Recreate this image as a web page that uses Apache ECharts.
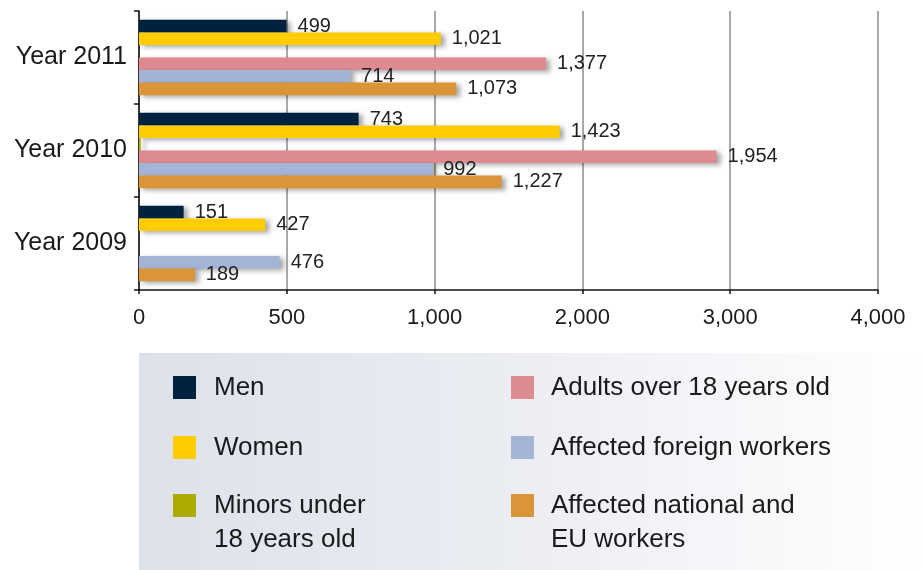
<!DOCTYPE html>
<html><head><meta charset="utf-8">
<script src="https://cdn.jsdelivr.net/npm/echarts@6/dist/echarts.min.js"></script>
<style>html,body{margin:0;padding:0;background:#fff}#c{width:923px;height:570px}</style>
</head><body><div id="c"></div>
<script>
const categories = ['Year 2009', 'Year 2010', 'Year 2011'];
const seriesNames = ['Men', 'Women', 'Minors under 18 years old', 'Adults over 18 years old', 'Affected foreign workers', 'Affected national and EU workers'];
const men = [151, 743, 499];
const women = [427, 1423, 1021];
const minors = [null, 6, null];
const adults = [null, 1954, 1377];
const foreign = [476, 992, 714];
const national = [189, 1227, 1073];
const tickLabels = ['0', '500', '1,000', '2,000', '3,000', '4,000'];
const legendTexts = ['Men', 'Women', '\nMinors under\n18 years old', 'Adults over 18 years old', 'Affected foreign workers', '\nAffected national and\nEU workers'];
const colors = ['#01223f', '#ffcc00', '#abab00', '#de8a91', '#a3b4d6', '#d99537'];

const values = [men, women, minors, adults, foreign, national];
const FONT = '"Liberation Sans", Arial, sans-serif';

const series = values.map((d, i) => ({
  type: 'bar',
  name: seriesNames[i],
  data: d,
  barGap: '0%',
  barCategoryGap: '19%',
  itemStyle: {
    color: colors[i],
    shadowColor: 'rgba(0,0,0,0.35)', shadowBlur: 5, shadowOffsetX: 4, shadowOffsetY: 2
  },
  label: {
    show: i !== 2,
    position: 'right',
    distance: 11,
    fontSize: 20,
    fontFamily: FONT,
    color: '#222',
    formatter: p => Number(p.value).toLocaleString('en-US')
  }
}));

const legendTop = [370.5, 430.5, 454.5];
const legends = seriesNames.map((n, i) => ({
  data: [n],
  left: i < 3 ? 173 : 511,
  top: legendTop[i % 3],
  padding: 0,
  icon: 'rect',
  itemWidth: 23,
  itemHeight: 23,
  selectedMode: false,
  formatter: () => legendTexts[i],
  textStyle: {
    fontSize: 26, fontFamily: FONT, color: '#1a1a1a', lineHeight: 34,
    padding: [0, 0, 0, i < 3 ? 13 : 12]
  }
}));

const chart = echarts.init(document.getElementById('c'), null, { renderer: 'canvas' });
chart.setOption({
  animation: false,
  color: colors,
  grid: { left: 139, right: 45, top: 11, bottom: 280, containLabel: false },
  graphic: [{
    type: 'rect', z: -10, silent: true,
    shape: { x: 139, y: 353, width: 784, height: 217 },
    style: {
      fill: new echarts.graphic.LinearGradient(0, 0, 1, 0, [
        { offset: 0, color: '#dde1ea' },
        { offset: 0.5, color: '#eceef3' },
        { offset: 0.85, color: '#fafafc' },
        { offset: 1, color: '#ffffff' }
      ])
    }
  }],
  legend: legends,
  xAxis: {
    type: 'value', min: 0, max: 2500, interval: 500,
    axisLine: { show: true, lineStyle: { color: '#111', width: 1.5 } },
    axisTick: { show: true, length: 4, lineStyle: { color: '#111', width: 1.5 } },
    splitLine: { show: true, lineStyle: { color: '#8c8c8c', width: 1.5 } },
    axisLabel: {
      margin: 17, fontSize: 22, color: '#1a1a1a',
      fontFamily: FONT,
      formatter: v => tickLabels[Math.round(v / 500)]
    }
  },
  yAxis: {
    type: 'category', data: categories,
    axisLine: { show: true, lineStyle: { color: '#111', width: 1.5 } },
    axisTick: { show: true, length: 5, lineStyle: { color: '#111', width: 1.5 } },
    axisLabel: { margin: 12, fontSize: 25, color: '#1a1a1a', fontFamily: FONT }
  },
  series: series
});
</script></body></html>
